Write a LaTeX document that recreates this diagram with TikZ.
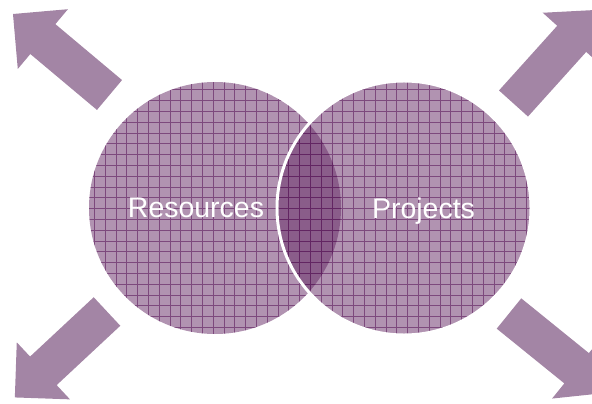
\documentclass[tikz,border=0pt]{standalone}
\usepackage{fontspec}
\setmainfont{Liberation Sans}
\usepackage{tikz}
\usetikzlibrary{positioning}
\definecolor{arrowfill}{RGB}{163,133,165}
\definecolor{circfill}{RGB}{100,40,100}
\definecolor{gridline}{RGB}{90,25,90}

\begin{document}
\begin{tikzpicture}[x=0.02cm, y=0.02cm]
  \tikzset{
    bigarrow/.style={fill=arrowfill, draw=none},
    disc/.style={fill=circfill, fill opacity=0.5, draw=none},
    gridlines/.style={draw=gridline, line width=0.45pt, opacity=0.6},
    label/.style={text=white, font=\fontsize{16.2}{19}\selectfont, inner sep=0pt}
  }

  \def\rad{126}
  \useasboundingbox (0,0) rectangle (592,403);

  % four block arrows: base x, base y, angle
  \foreach \bx/\by/\ang in {109.5/308/140, 513.5/299.5/48, 107/91.5/223, 509/89.5/-39} {
    \begin{scope}[shift={(\bx,\by)}, rotate=\ang]
      \fill[bigarrow] (0,-19.5) -- (87,-19.5) -- (87,-39) -- (126,0)
        -- (87,39) -- (87,19.5) -- (0,19.5) -- cycle;
    \end{scope}
  }

  % left circle
  \fill[disc] (215,195) circle (\rad);
  \begin{scope}
    \clip (215,195) circle (\rad);
    \draw[gridlines, step=10.8, xshift=4.5] (80,60) grid (350,330);
  \end{scope}

  % right circle
  \fill[disc] (404,195) circle (\rad+1);
  \begin{scope}
    \clip (404,195) circle (\rad+1);
    \draw[gridlines, step=10.8, xshift=4.5] (270,60) grid (540,330);
  \end{scope}
  \draw[white, line width=1.7pt] (404,195) circle (\rad+1);

  % labels
  \node[label, anchor=base] (res) at (196,186) {Resources};
  \node[label, anchor=base] (proj) at (423.5,185) {Projects};
\end{tikzpicture}
\end{document}
